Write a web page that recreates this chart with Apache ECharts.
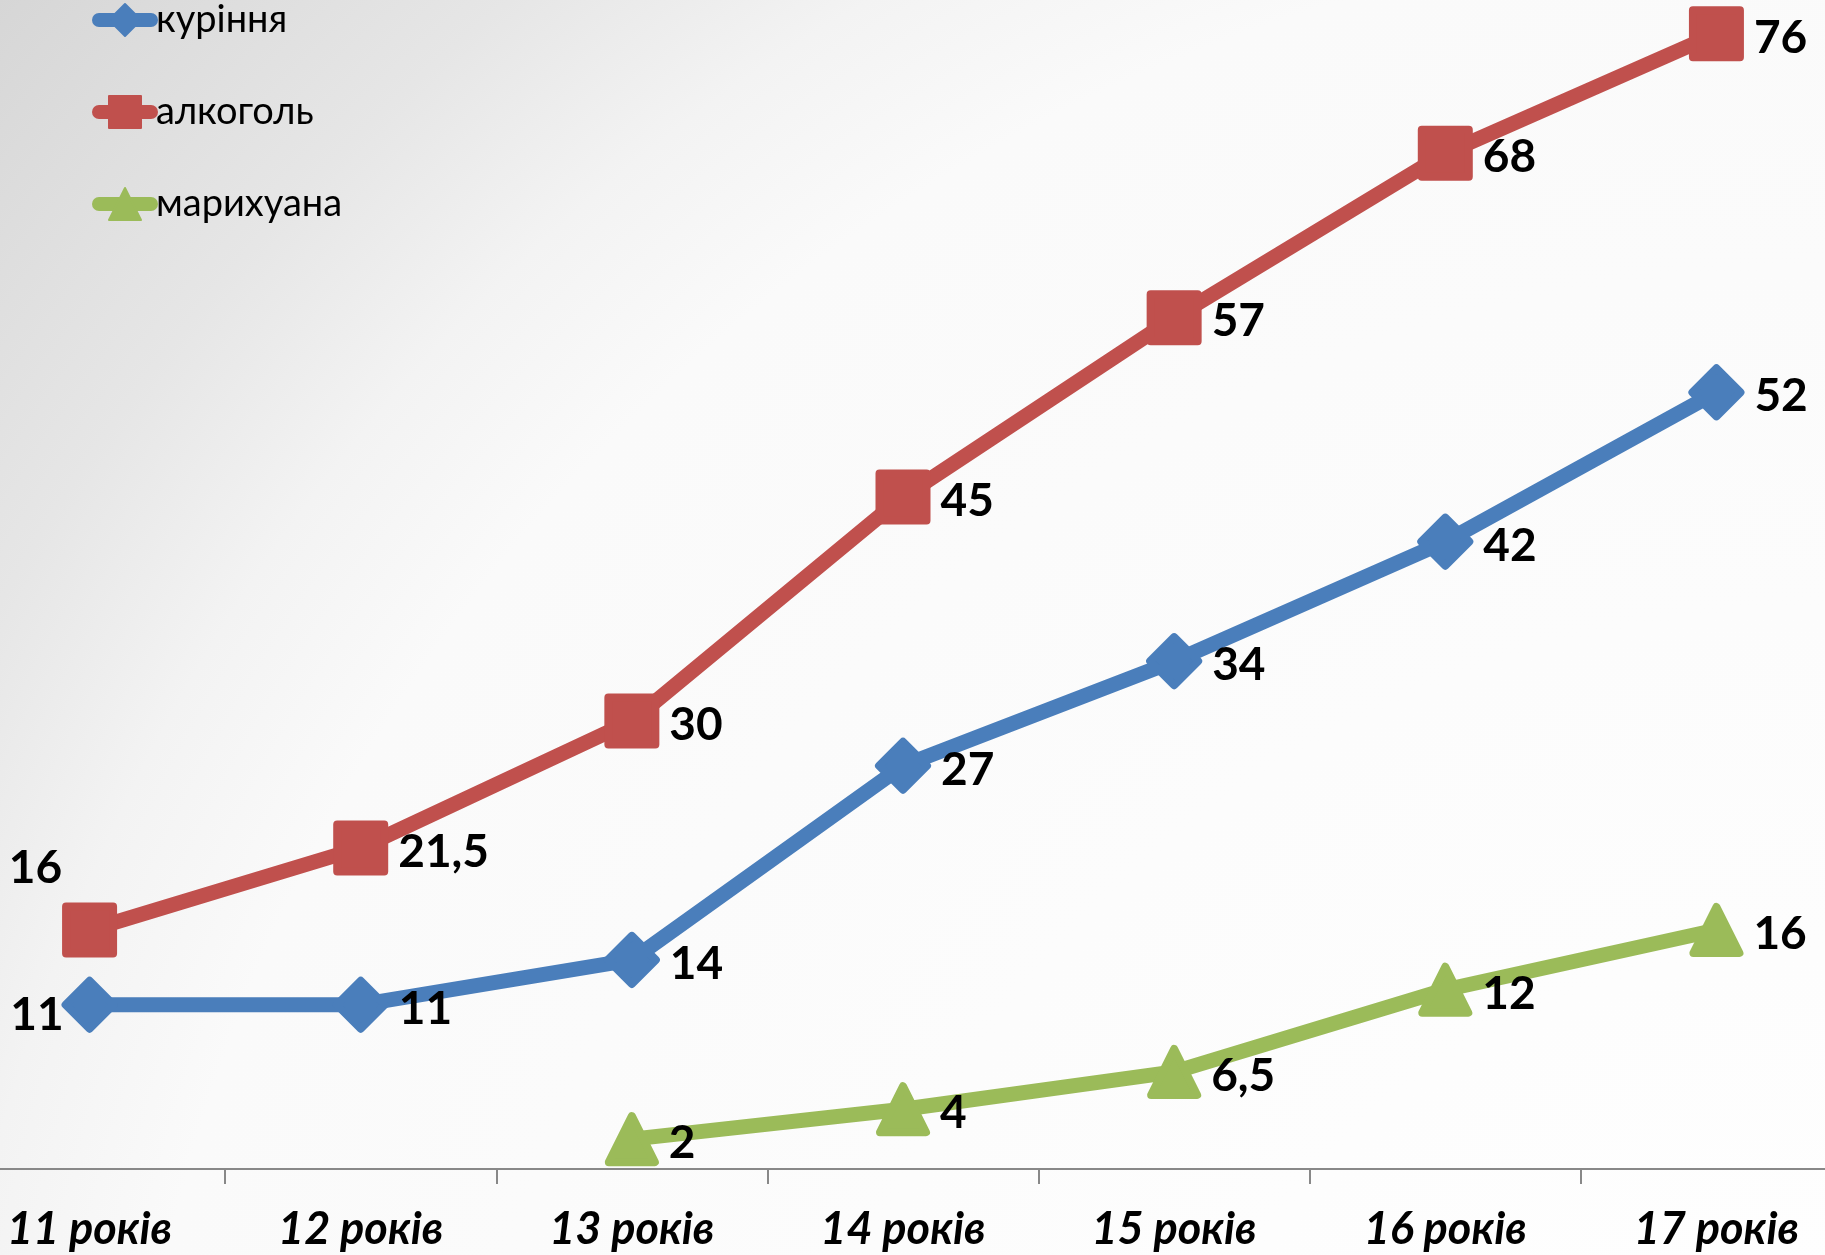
<!DOCTYPE html>
<html>
<head>
<meta charset="utf-8">
<script src="https://cdn.jsdelivr.net/npm/echarts@6/dist/echarts.min.js"></script>
<style>
html,body{margin:0;padding:0;overflow:hidden;}
#wrap{position:relative;width:1825px;height:1255px;overflow:hidden;background:radial-gradient(circle at 100% 130%, #ffffff 0px, #fafafa 1700px, #f3f3f3 1890px, #e6e6e6 2095px, #d6d6d6 2450px);}
#chart{position:absolute;left:-46px;top:0;width:1898px;height:1255px;}
</style>
</head>
<body>
<div id="wrap"><div id="chart"></div></div>
<script>
const categories = ['11 років','12 років','13 років','14 років','15 років','16 років','17 років'];
const smoking = [11, 11, 14, 27, 34, 42, 52];
const alcohol = [16, 21.5, 30, 45, 57, 68, 76];
const marijuana = ['-', '-', 2, 4, 6.5, 12, 16];
const seriesNames = ['куріння','алкоголь','марихуана'];

const FONT = "Lato, 'Open Sans', sans-serif";
const fmt = p => String(p.value).replace('.', ',');
const labelBase = {show:true, position:'right', distance:10, offset:[0,4], color:'#000', fontFamily:FONT, fontWeight:'bold', fontSize:46, formatter:fmt};

function mk(name, data, color, symbol, size, firstLabel){
  const d = data.map((v,i)=> (i===0 && firstLabel) ? {value:v, label:firstLabel} : v);
  return {
    name, type:'line', data:d, symbol, symbolSize:size,
    lineStyle:{color, width:15, cap:'round'}, itemStyle:{color, borderColor:color, borderWidth:8, borderJoin:'round'},
    label: labelBase, emphasis:{disabled:true}, animation:false
  };
}

const chart = echarts.init(document.getElementById('chart'), null, {renderer:'canvas'});
chart.setOption({
  animation:false,
  grid:{left:0, right:0, top:4, bottom:86},
  legend:{
    orient:'vertical', left:138, top:0, padding:0, itemWidth:52, itemHeight:40, itemGap:52,
    lineStyle:{width:14, cap:'round'},
    textStyle:{fontFamily:FONT, fontSize:38, color:'#000', lineHeight:40},
    data:seriesNames
  },
  xAxis:{
    type:'category', data:categories, boundaryGap:true,
    axisLine:{lineStyle:{color:'#888', width:2}},
    axisTick:{show:true, length:15, lineStyle:{color:'#888', width:2}},
    axisLabel:{margin:38, color:'#000', fontFamily:FONT, fontWeight:'bold', fontStyle:'italic', fontSize:45}
  },
  yAxis:{type:'value', min:0, max:78, show:false, splitLine:{show:false}},
  series:[
    mk(seriesNames[0], smoking, '#4A7EBB', 'diamond', 48, {position:'left', distance:-2, offset:[0,10]}),
    mk(seriesNames[1], alcohol, '#C0504D', 'rect', 47, {position:'left', distance:0, offset:[0,-62]}),
    mk(seriesNames[2], marijuana, '#9BBB59', 'triangle', 46, null)
  ]
});
</script>
</body>
</html>
